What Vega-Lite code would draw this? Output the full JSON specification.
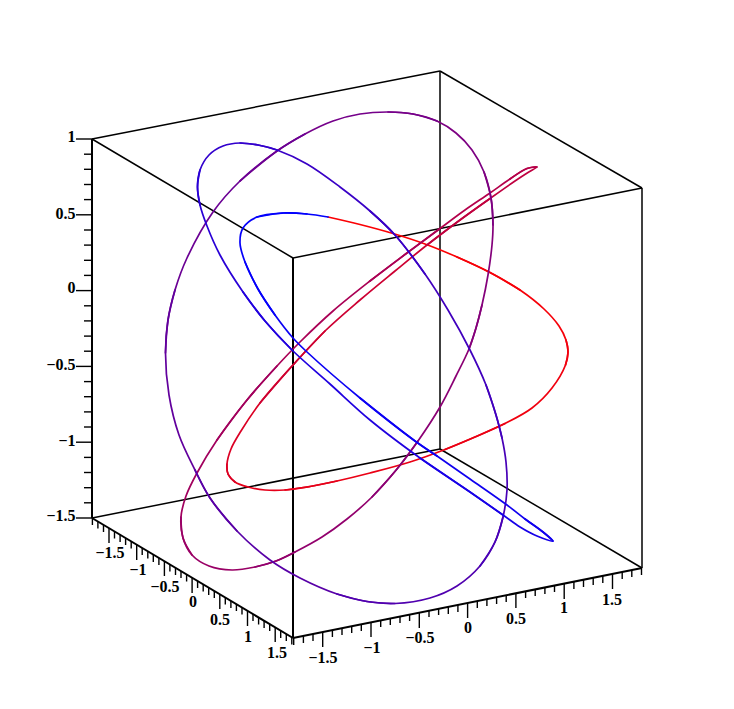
{"$schema":"https://vega.github.io/schema/vega-lite/v6.json","width":734,"height":709,"padding":0,"autosize":{"type":"fit","contains":"padding"},"background":"white","config":{"view":{"stroke":null}},
"datasets":{
"thin":[{"h":92,"v":139,"h2":440,"v2":71},{"h":440,"v":71,"h2":642,"v2":188},{"h":642,"v":188,"h2":293,"v2":258},{"h":293,"v":258,"h2":92,"v2":139},{"h":92,"v":518,"h2":440,"v2":449},{"h":440,"v":449,"h2":642,"v2":568},{"h":440,"v":71,"h2":440,"v2":449},{"h":642,"v":188,"h2":642,"v2":568}],
"thick":[{"h":92,"v":139,"h2":92,"v2":518},{"h":293,"v":258,"h2":293,"v2":638},{"h":92,"v":518,"h2":293,"v2":638},{"h":293,"v":638,"h2":642,"v2":568}],
"ticks":[
{"h":76,"v":139,"h2":92,"v2":139},{"h":84,"v":154.2,"h2":92,"v2":154.2},{"h":84,"v":169.3,"h2":92,"v2":169.3},{"h":84,"v":184.5,"h2":92,"v2":184.5},{"h":84,"v":199.6,"h2":92,"v2":199.6},{"h":76,"v":214.8,"h2":92,"v2":214.8},{"h":84,"v":230,"h2":92,"v2":230},{"h":84,"v":245.1,"h2":92,"v2":245.1},{"h":84,"v":260.3,"h2":92,"v2":260.3},{"h":84,"v":275.4,"h2":92,"v2":275.4},{"h":76,"v":290.6,"h2":92,"v2":290.6},{"h":84,"v":305.8,"h2":92,"v2":305.8},{"h":84,"v":320.9,"h2":92,"v2":320.9},{"h":84,"v":336.1,"h2":92,"v2":336.1},{"h":84,"v":351.2,"h2":92,"v2":351.2},{"h":76,"v":366.4,"h2":92,"v2":366.4},{"h":84,"v":381.6,"h2":92,"v2":381.6},{"h":84,"v":396.7,"h2":92,"v2":396.7},{"h":84,"v":411.9,"h2":92,"v2":411.9},{"h":84,"v":427,"h2":92,"v2":427},{"h":76,"v":442.2,"h2":92,"v2":442.2},{"h":84,"v":457.4,"h2":92,"v2":457.4},{"h":84,"v":472.5,"h2":92,"v2":472.5},{"h":84,"v":487.7,"h2":92,"v2":487.7},{"h":84,"v":502.8,"h2":92,"v2":502.8},{"h":76,"v":518,"h2":92,"v2":518},
{"h":92.4,"v":518.2,"h2":92.4,"v2":525},{"h":97.9,"v":521.5,"h2":97.9,"v2":528.5},{"h":103.5,"v":524.9,"h2":103.5,"v2":532},{"h":109,"v":528.1,"h2":109,"v2":543},{"h":114.5,"v":531.4,"h2":114.5,"v2":538.5},{"h":120.1,"v":534.8,"h2":120.1,"v2":542},{"h":125.6,"v":538.1,"h2":125.6,"v2":545},{"h":131.2,"v":541.4,"h2":131.2,"v2":548.5},{"h":136.7,"v":544.7,"h2":136.7,"v2":560},{"h":142.2,"v":548,"h2":142.2,"v2":555},{"h":147.8,"v":551.3,"h2":147.8,"v2":558.5},{"h":153.3,"v":554.6,"h2":153.3,"v2":562},{"h":158.9,"v":557.9,"h2":158.9,"v2":565},{"h":164.4,"v":561.2,"h2":164.4,"v2":576},{"h":169.9,"v":564.5,"h2":169.9,"v2":571.5},{"h":175.5,"v":567.8,"h2":175.5,"v2":575},{"h":181,"v":571.1,"h2":181,"v2":578},{"h":186.6,"v":574.5,"h2":186.6,"v2":581.5},{"h":192.1,"v":577.8,"h2":192.1,"v2":593},{"h":197.6,"v":581.1,"h2":197.6,"v2":588},{"h":203.2,"v":584.4,"h2":203.2,"v2":591.5},{"h":208.7,"v":587.7,"h2":208.7,"v2":595},{"h":214.3,"v":591,"h2":214.3,"v2":598},{"h":219.8,"v":594.3,"h2":219.8,"v2":609},{"h":225.3,"v":597.6,"h2":225.3,"v2":604.5},{"h":230.9,"v":600.9,"h2":230.9,"v2":608},{"h":236.4,"v":604.2,"h2":236.4,"v2":611},{"h":242,"v":607.6,"h2":242,"v2":614.5},{"h":247.5,"v":610.8,"h2":247.5,"v2":626},{"h":253,"v":614.1,"h2":253,"v2":621},{"h":258.6,"v":617.5,"h2":258.6,"v2":624.5},{"h":264.1,"v":620.7,"h2":264.1,"v2":628},{"h":269.7,"v":624.1,"h2":269.7,"v2":631},{"h":275.2,"v":627.4,"h2":275.2,"v2":642},{"h":280.7,"v":630.7,"h2":280.7,"v2":638},{"h":286.3,"v":634,"h2":286.3,"v2":641},{"h":291.8,"v":637.3,"h2":291.8,"v2":644.5},
{"h":293.7,"v":637.9,"h2":293.7,"v2":645},{"h":303.4,"v":635.9,"h2":303.4,"v2":643},{"h":313,"v":634,"h2":313,"v2":641},{"h":322.7,"v":632,"h2":322.7,"v2":647},{"h":332.4,"v":630.1,"h2":332.4,"v2":637},{"h":342,"v":628.2,"h2":342,"v2":635},{"h":351.7,"v":626.2,"h2":351.7,"v2":633},{"h":361.3,"v":624.3,"h2":361.3,"v2":631},{"h":371,"v":622.4,"h2":371,"v2":637},{"h":380.7,"v":620.4,"h2":380.7,"v2":627},{"h":390.3,"v":618.5,"h2":390.3,"v2":625},{"h":400,"v":616.5,"h2":400,"v2":623},{"h":409.6,"v":614.6,"h2":409.6,"v2":621},{"h":419.3,"v":612.7,"h2":419.3,"v2":628},{"h":429,"v":610.7,"h2":429,"v2":617},{"h":438.6,"v":608.8,"h2":438.6,"v2":615},{"h":448.3,"v":606.9,"h2":448.3,"v2":614},{"h":457.9,"v":604.9,"h2":457.9,"v2":612},{"h":467.6,"v":603,"h2":467.6,"v2":618},{"h":477.3,"v":601,"h2":477.3,"v2":608},{"h":486.9,"v":599.1,"h2":486.9,"v2":606},{"h":496.6,"v":597.2,"h2":496.6,"v2":604},{"h":506.2,"v":595.2,"h2":506.2,"v2":602},{"h":515.9,"v":593.3,"h2":515.9,"v2":608},{"h":525.6,"v":591.3,"h2":525.6,"v2":598},{"h":535.2,"v":589.4,"h2":535.2,"v2":596},{"h":544.9,"v":587.5,"h2":544.9,"v2":594},{"h":554.5,"v":585.5,"h2":554.5,"v2":592},{"h":564.2,"v":583.6,"h2":564.2,"v2":599},{"h":573.9,"v":581.7,"h2":573.9,"v2":589},{"h":583.5,"v":579.7,"h2":583.5,"v2":587},{"h":593.2,"v":577.8,"h2":593.2,"v2":585},{"h":602.8,"v":575.8,"h2":602.8,"v2":583},{"h":612.5,"v":573.9,"h2":612.5,"v2":589},{"h":622.2,"v":572,"h2":622.2,"v2":579},{"h":631.8,"v":570,"h2":631.8,"v2":577},{"h":641.5,"v":568.1,"h2":641.5,"v2":575}],
"zlabels":[{"h":75.5,"v":137,"s":"1"},{"h":75.5,"v":214,"s":"0.5"},{"h":75.5,"v":288,"s":"0"},{"h":75.5,"v":365,"s":"−0.5"},{"h":75.5,"v":441,"s":"−1"},{"h":75.5,"v":516,"s":"−1.5"}],
"labels":[{"h":110,"v":553,"s":"−1.5"},{"h":138,"v":570,"s":"−1"},{"h":165,"v":587,"s":"−0.5"},{"h":193,"v":602,"s":"0"},{"h":220,"v":620,"s":"0.5"},{"h":248,"v":637,"s":"1"},{"h":277,"v":653,"s":"1.5"},{"h":323,"v":658,"s":"−1.5"},{"h":372,"v":648,"s":"−1"},{"h":420,"v":638,"s":"−0.5"},{"h":468,"v":628,"s":"0"},{"h":516,"v":619,"s":"0.5"},{"h":564,"v":608,"s":"1"},{"h":612,"v":600,"s":"1.5"}],
"curve":[
{"i":0,"h":328,"v":217,"t":0,"p":[0]},{"i":1,"h":360,"v":224.5,"t":0.005,"p":[0]},{"i":2,"h":393,"v":233.5,"t":0.009,"p":[0]},{"i":3,"h":425,"v":244,"t":0.014,"p":[0]},{"i":4,"h":457,"v":257,"t":0.018,"p":[0,1]},
{"i":5,"h":490,"v":272.5,"t":0.023,"p":[0,1]},{"i":6,"h":520,"v":290,"t":0.028,"p":[0,1]},{"i":7,"h":544,"v":309,"t":0.032,"p":[1]},{"i":8,"h":559,"v":326,"t":0.037,"p":[1]},{"i":9,"h":566,"v":340,"t":0.041,"p":[1,2]},
{"i":10,"h":568,"v":352,"t":0.046,"p":[1,2]},{"i":11,"h":565.5,"v":365,"t":0.051,"p":[1,2]},{"i":12,"h":552,"v":388,"t":0.055,"p":[2]},{"i":13,"h":532,"v":408,"t":0.06,"p":[2]},{"i":14,"h":505,"v":423.5,"t":0.064,"p":[2,3]},
{"i":15,"h":475,"v":437,"t":0.069,"p":[2,3]},{"i":16,"h":445,"v":449.5,"t":0.074,"p":[2,3]},{"i":17,"h":410,"v":462,"t":0.078,"p":[3]},{"i":18,"h":370,"v":473,"t":0.083,"p":[3]},{"i":19,"h":337,"v":481,"t":0.087,"p":[3,4]},
{"i":20,"h":310,"v":486.5,"t":0.092,"p":[3,4]},{"i":21,"h":285,"v":490,"t":0.097,"p":[3,4]},{"i":22,"h":265,"v":490,"t":0.101,"p":[4]},{"i":23,"h":248,"v":487,"t":0.106,"p":[4]},{"i":24,"h":235,"v":482,"t":0.11,"p":[4,5]},
{"i":25,"h":228,"v":474,"t":0.115,"p":[4,5]},{"i":26,"h":227,"v":464,"t":0.12,"p":[4,5]},{"i":27,"h":231,"v":449,"t":0.132,"p":[5]},{"i":28,"h":241,"v":431,"t":0.143,"p":[5]},{"i":29,"h":260,"v":403,"t":0.155,"p":[5,6]},
{"i":30,"h":293,"v":365,"t":0.166,"p":[5,6]},{"i":31,"h":325,"v":331,"t":0.178,"p":[5,6]},{"i":32,"h":360,"v":300,"t":0.189,"p":[6]},{"i":33,"h":395,"v":271,"t":0.201,"p":[6]},{"i":34,"h":427,"v":245,"t":0.212,"p":[6,7]},
{"i":35,"h":460,"v":220,"t":0.224,"p":[6,7]},{"i":36,"h":490,"v":198.5,"t":0.235,"p":[6,7]},{"i":37,"h":515,"v":181,"t":0.247,"p":[7]},{"i":38,"h":528,"v":172.5,"t":0.258,"p":[7]},{"i":39,"h":537,"v":167,"t":0.27,"p":[7,8]},
{"i":40,"h":527,"v":168.5,"t":0.277,"p":[7,8]},{"i":41,"h":510,"v":179,"t":0.285,"p":[7,8]},{"i":42,"h":490,"v":193,"t":0.292,"p":[8]},{"i":43,"h":465,"v":210,"t":0.299,"p":[8]},{"i":44,"h":440,"v":228.5,"t":0.307,"p":[8,9]},
{"i":45,"h":407,"v":253,"t":0.314,"p":[8,9]},{"i":46,"h":370,"v":281,"t":0.321,"p":[8,9]},{"i":47,"h":333,"v":311,"t":0.329,"p":[9]},{"i":48,"h":300,"v":342,"t":0.336,"p":[9]},{"i":49,"h":277,"v":366,"t":0.343,"p":[9,10]},
{"i":50,"h":247,"v":400,"t":0.351,"p":[9,10]},{"i":51,"h":217,"v":440,"t":0.358,"p":[9,10]},{"i":52,"h":197,"v":473,"t":0.365,"p":[10]},{"i":53,"h":186,"v":496,"t":0.373,"p":[10]},{"i":54,"h":181,"v":517,"t":0.38,"p":[10,11]},
{"i":55,"h":183,"v":538,"t":0.386,"p":[10,11]},{"i":56,"h":192,"v":555,"t":0.391,"p":[10,11]},{"i":57,"h":209,"v":566,"t":0.397,"p":[11]},{"i":58,"h":232,"v":570,"t":0.402,"p":[11]},{"i":59,"h":255,"v":567,"t":0.408,"p":[11,12]},
{"i":60,"h":276,"v":561,"t":0.413,"p":[11,12]},{"i":61,"h":295,"v":552,"t":0.419,"p":[11,12]},{"i":62,"h":322,"v":537,"t":0.424,"p":[12]},{"i":63,"h":347,"v":519,"t":0.43,"p":[12]},{"i":64,"h":372,"v":497,"t":0.436,"p":[12,13]},
{"i":65,"h":397,"v":469,"t":0.441,"p":[12,13]},{"i":66,"h":418,"v":441,"t":0.447,"p":[12,13]},{"i":67,"h":440,"v":407,"t":0.452,"p":[13]},{"i":68,"h":456,"v":376,"t":0.458,"p":[13]},{"i":69,"h":469,"v":349,"t":0.463,"p":[13,14]},
{"i":70,"h":476,"v":328,"t":0.469,"p":[13,14]},{"i":71,"h":482,"v":305,"t":0.474,"p":[13,14]},{"i":72,"h":488,"v":275,"t":0.48,"p":[14]},{"i":73,"h":492,"v":245,"t":0.486,"p":[14]},{"i":74,"h":493,"v":225,"t":0.491,"p":[14,15]},
{"i":75,"h":491,"v":198,"t":0.497,"p":[14,15]},{"i":76,"h":484,"v":172,"t":0.502,"p":[14,15]},{"i":77,"h":472,"v":150,"t":0.508,"p":[15]},{"i":78,"h":456,"v":133,"t":0.513,"p":[15]},{"i":79,"h":437,"v":121,"t":0.519,"p":[15,16]},
{"i":80,"h":413,"v":114,"t":0.524,"p":[15,16]},{"i":81,"h":388,"v":112,"t":0.53,"p":[15,16]},{"i":82,"h":360,"v":114,"t":0.538,"p":[16]},{"i":83,"h":333,"v":121,"t":0.545,"p":[16]},{"i":84,"h":305,"v":134,"t":0.553,"p":[16,17]},
{"i":85,"h":277,"v":151,"t":0.56,"p":[16,17]},{"i":86,"h":240,"v":181,"t":0.568,"p":[16,17]},{"i":87,"h":213,"v":212,"t":0.575,"p":[17]},{"i":88,"h":187,"v":258,"t":0.583,"p":[17]},{"i":89,"h":175,"v":290,"t":0.59,"p":[17,18]},
{"i":90,"h":168,"v":320,"t":0.598,"p":[17,18]},{"i":91,"h":165.5,"v":353,"t":0.605,"p":[17,18]},{"i":92,"h":169,"v":395,"t":0.613,"p":[18]},{"i":93,"h":179,"v":435,"t":0.62,"p":[18]},{"i":94,"h":195,"v":470,"t":0.628,"p":[18,19]},
{"i":95,"h":210,"v":498,"t":0.635,"p":[18,19]},{"i":96,"h":237,"v":531,"t":0.643,"p":[18,19]},{"i":97,"h":270,"v":560,"t":0.65,"p":[19]},{"i":98,"h":300,"v":578,"t":0.658,"p":[19]},{"i":99,"h":337,"v":594,"t":0.665,"p":[19,20]},
{"i":100,"h":367,"v":601.5,"t":0.673,"p":[19,20]},{"i":101,"h":395,"v":603.5,"t":0.68,"p":[19,20]},{"i":102,"h":430,"v":598,"t":0.686,"p":[20]},{"i":103,"h":457,"v":586,"t":0.692,"p":[20]},{"i":104,"h":480,"v":566,"t":0.697,"p":[20,21]},
{"i":105,"h":495,"v":542,"t":0.703,"p":[20,21]},{"i":106,"h":503,"v":517,"t":0.709,"p":[20,21]},{"i":107,"h":507,"v":490,"t":0.715,"p":[21]},{"i":108,"h":506,"v":462,"t":0.721,"p":[21]},{"i":109,"h":502,"v":438,"t":0.727,"p":[21,22]},
{"i":110,"h":496,"v":415,"t":0.732,"p":[21,22]},{"i":111,"h":486,"v":385,"t":0.738,"p":[21,22]},{"i":112,"h":470,"v":350,"t":0.744,"p":[22]},{"i":113,"h":448,"v":310,"t":0.75,"p":[22]},{"i":114,"h":425,"v":274,"t":0.756,"p":[22,23]},
{"i":115,"h":395,"v":235,"t":0.762,"p":[22,23]},{"i":116,"h":370,"v":211,"t":0.767,"p":[22,23]},{"i":117,"h":340,"v":187,"t":0.773,"p":[23]},{"i":118,"h":307,"v":164,"t":0.779,"p":[23]},{"i":119,"h":277,"v":150,"t":0.785,"p":[23,24]},
{"i":120,"h":258,"v":145,"t":0.791,"p":[23,24]},{"i":121,"h":240,"v":143,"t":0.797,"p":[23,24]},{"i":122,"h":223,"v":146,"t":0.803,"p":[24]},{"i":123,"h":209,"v":155,"t":0.808,"p":[24]},{"i":124,"h":200,"v":170,"t":0.814,"p":[24,25]},
{"i":125,"h":197.5,"v":187,"t":0.82,"p":[24,25]},{"i":126,"h":200,"v":205,"t":0.827,"p":[24,25]},{"i":127,"h":207,"v":226,"t":0.834,"p":[25]},{"i":128,"h":220,"v":255,"t":0.841,"p":[25]},{"i":129,"h":243,"v":292,"t":0.849,"p":[25,26]},
{"i":130,"h":265,"v":321,"t":0.856,"p":[25,26]},{"i":131,"h":292,"v":350,"t":0.863,"p":[25,26]},{"i":132,"h":330,"v":384,"t":0.87,"p":[26]},{"i":133,"h":370,"v":420,"t":0.877,"p":[26]},{"i":134,"h":420,"v":458,"t":0.884,"p":[26,27]},
{"i":135,"h":470,"v":492,"t":0.891,"p":[26,27]},{"i":136,"h":503,"v":515,"t":0.899,"p":[26,27]},{"i":137,"h":520,"v":527,"t":0.906,"p":[27]},{"i":138,"h":537,"v":536,"t":0.913,"p":[27]},{"i":139,"h":553,"v":541,"t":0.92,"p":[27,28]},
{"i":140,"h":543,"v":532,"t":0.924,"p":[27,28]},{"i":141,"h":525,"v":519,"t":0.929,"p":[27,28]},{"i":142,"h":507,"v":505,"t":0.933,"p":[28]},{"i":143,"h":470,"v":479,"t":0.938,"p":[28]},{"i":144,"h":437,"v":456,"t":0.942,"p":[28,29]},
{"i":145,"h":415,"v":441,"t":0.947,"p":[28,29]},{"i":146,"h":360,"v":398,"t":0.951,"p":[28,29]},{"i":147,"h":307,"v":352,"t":0.956,"p":[29]},{"i":148,"h":293,"v":338,"t":0.96,"p":[29]},{"i":149,"h":275,"v":315,"t":0.965,"p":[29,30]},
{"i":150,"h":258,"v":289,"t":0.969,"p":[29,30]},{"i":151,"h":245,"v":262,"t":0.974,"p":[29,30]},{"i":152,"h":240,"v":243,"t":0.978,"p":[30]},{"i":153,"h":243,"v":228,"t":0.982,"p":[30]},{"i":154,"h":257,"v":217,"t":0.987,"p":[30,31]},
{"i":155,"h":283,"v":213,"t":0.991,"p":[30,31]},{"i":156,"h":307,"v":214,"t":0.996,"p":[30,31]},{"i":157,"h":328,"v":217,"t":1,"p":[31]}]
},
"layer":[
{"data":{"name":"thin"},"mark":{"type":"rule","color":"black","strokeWidth":1.5},"encoding":{"x":{"field":"h","type":"quantitative","scale":{"domain":[0,734]},"axis":null},"y":{"field":"v","type":"quantitative","scale":{"domain":[709,0]},"axis":null},"x2":{"field":"h2"},"y2":{"field":"v2"}}},
{"data":{"name":"thick"},"mark":{"type":"rule","color":"black","strokeWidth":2},"encoding":{"x":{"field":"h","type":"quantitative","scale":{"domain":[0,734]},"axis":null},"y":{"field":"v","type":"quantitative","scale":{"domain":[709,0]},"axis":null},"x2":{"field":"h2"},"y2":{"field":"v2"}}},
{"data":{"name":"ticks"},"mark":{"type":"rule","color":"black","strokeWidth":1.4},"encoding":{"x":{"field":"h","type":"quantitative","scale":{"domain":[0,734]},"axis":null},"y":{"field":"v","type":"quantitative","scale":{"domain":[709,0]},"axis":null},"x2":{"field":"h2"},"y2":{"field":"v2"}}},
{"data":{"name":"curve"},"transform":[{"flatten":["p"]},{"joinaggregate":[{"op":"mean","field":"t","as":"c"}],"groupby":["p"]}],"mark":{"type":"line","strokeWidth":1.7,"interpolate":"catmull-rom","strokeCap":"round"},"encoding":{"x":{"field":"h","type":"quantitative","scale":{"domain":[0,734]},"axis":null},"y":{"field":"v","type":"quantitative","scale":{"domain":[709,0]},"axis":null},"detail":{"field":"p","type":"nominal"},"order":{"field":"i","type":"quantitative"},"color":{"field":"c","type":"quantitative","scale":{"domain":[0,1],"range":["#ff0000","#0000ff"],"interpolate":"rgb"},"legend":null}}},
{"data":{"name":"zlabels"},"mark":{"type":"text","font":"Liberation Serif","fontSize":16,"fontWeight":"bold","align":"right","baseline":"middle","color":"black"},"encoding":{"x":{"field":"h","type":"quantitative","scale":{"domain":[0,734]},"axis":null},"y":{"field":"v","type":"quantitative","scale":{"domain":[709,0]},"axis":null},"text":{"field":"s","type":"nominal"}}},
{"data":{"name":"labels"},"mark":{"type":"text","font":"Liberation Serif","fontSize":16,"fontWeight":"bold","align":"center","baseline":"middle","color":"black"},"encoding":{"x":{"field":"h","type":"quantitative","scale":{"domain":[0,734]},"axis":null},"y":{"field":"v","type":"quantitative","scale":{"domain":[709,0]},"axis":null},"text":{"field":"s","type":"nominal"}}}
]}
